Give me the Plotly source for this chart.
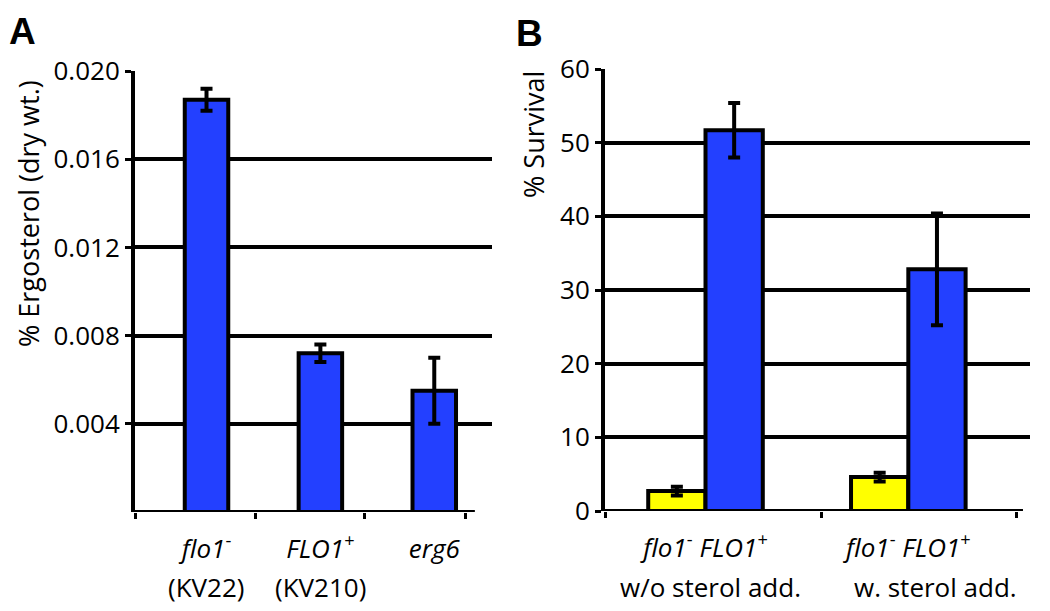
import plotly.graph_objects as go

# ---------------- Panel A data ----------------
a_categories = ["flo1-", "FLO1+", "erg6"]
a_labels_line1 = ["<i>flo1</i><sup>-</sup>", "<i>FLO1</i><sup>+</sup>", "<i>erg6</i>"]
a_labels_line2 = ["(KV22)", "(KV210)", ""]
a_values = [0.0187, 0.0072, 0.0055]
a_errors = [0.0005, 0.0004, 0.0015]
a_yticks = [0.004, 0.008, 0.012, 0.016, 0.020]
a_yticklabels = ["0.004", "0.008", "0.012", "0.016", "0.020"]

# ---------------- Panel B data ----------------
b_groups = ["w/o sterol add.", "w. sterol add."]
b_labels_line1 = ["<i>flo1</i><sup>-</sup> <i>FLO1</i><sup>+</sup>",
                  "<i>flo1</i><sup>-</sup> <i>FLO1</i><sup>+</sup>"]
b_flo1_minus = [2.7, 4.6]
b_flo1_minus_err = [0.6, 0.6]
b_FLO1_plus = [51.7, 32.8]
b_FLO1_plus_err = [3.7, 7.6]
b_yticks = [0, 10, 20, 30, 40, 50, 60]
b_yticklabels = ["0", "10", "20", "30", "40", "50", "60"]

BLUE = "#2340FF"
YELLOW = "#FFFF00"
FONT = "Open Sans"
FS = 26

# page body has an 8px margin: lay the figure out in page pixels
OFF = 8
W, H = 1050 - OFF, 611 - OFF


def fx(px):
    return (px - OFF) / W


def fy(py):
    return 1 - (py - OFF) / H


a_x = list(range(len(a_categories)))
b_x = list(range(len(b_groups)))

fig = go.Figure()

fig.add_trace(go.Bar(
    x=a_x, y=a_values, width=0.382,
    marker=dict(color=BLUE, line=dict(color="black", width=4)),
    error_y=dict(type="data", array=a_errors, color="black", thickness=4, width=6),
    xaxis="x", yaxis="y", showlegend=False,
))
fig.add_trace(go.Bar(
    x=b_x, y=b_flo1_minus,
    marker=dict(color=YELLOW, line=dict(color="black", width=4)),
    error_y=dict(type="data", array=b_flo1_minus_err, color="black", thickness=4, width=6),
    xaxis="x2", yaxis="y2", showlegend=False,
))
fig.add_trace(go.Bar(
    x=b_x, y=b_FLO1_plus,
    marker=dict(color=BLUE, line=dict(color="black", width=4)),
    error_y=dict(type="data", array=b_FLO1_plus_err, color="black", thickness=4, width=6),
    xaxis="x2", yaxis="y2", showlegend=False,
))

axis_common = dict(color="black", automargin=False,
                   tickfont=dict(family=FONT, size=FS, color="black"))

fig.update_layout(
    template="none",
    width=W, height=H,
    margin=dict(l=0, r=0, t=0, b=0, pad=0),
    paper_bgcolor="white", plot_bgcolor="white",
    barmode="group", bargap=0.435, bargroupgap=0,
    font=dict(family=FONT, size=FS, color="black"),
    xaxis=dict(
        domain=[fx(135), fx(492)], range=[-0.628, 2.507],
        tickmode="array", tickvals=a_x, ticktext=a_labels_line1,
        ticks="", showgrid=False, zeroline=False, showline=False,
        ticklabelstandoff=19,
        minor=dict(tickmode="array", tickvals=[-0.628, 0.426, 1.383, 2.270],
                   ticks="outside", ticklen=6, tickwidth=3, tickcolor="black", showgrid=False),
        anchor="y", **axis_common,
    ),
    yaxis=dict(
        domain=[fy(512), fy(71)], range=[0, 0.020],
        tickmode="array", tickvals=a_yticks, ticktext=a_yticklabels,
        ticks="outside", ticklen=6, tickwidth=3, tickcolor="black",
        showgrid=True, gridcolor="black", gridwidth=3.5,
        showline=True, linecolor="black", linewidth=4, zeroline=False,
        anchor="x", **axis_common,
    ),
    xaxis2=dict(
        domain=[fx(605), fx(1030)], range=[-0.4956, 1.600],
        tickmode="array", tickvals=b_x, ticktext=b_labels_line1,
        ticks="", showgrid=False, zeroline=False, showline=False,
        ticklabelstandoff=19,
        minor=dict(tickmode="array", tickvals=[-0.4956, 0.574, 1.531],
                   ticks="outside", ticklen=6, tickwidth=3, tickcolor="black", showgrid=False),
        anchor="y2", **axis_common,
    ),
    yaxis2=dict(
        domain=[fy(511), fy(69)], range=[0, 60],
        tickmode="array", tickvals=b_yticks, ticktext=b_yticklabels,
        ticks="outside", ticklen=6, tickwidth=3, tickcolor="black",
        showgrid=True, gridcolor="black", gridwidth=3.5,
        showline=True, linecolor="black", linewidth=4, zeroline=False,
        anchor="x2", **axis_common,
    ),
)

# x-axis baselines (shorter than gridlines, as in the original)
fig.add_shape(type="line", xref="x domain", yref="y", x0=-0.008, x1=0.952, y0=0, y1=0,
              line=dict(color="black", width=4))
fig.add_shape(type="line", xref="x2 domain", yref="y2", x0=-0.005, x1=0.9835, y0=0, y1=0,
              line=dict(color="black", width=4))

annotations = []
# second line of category labels
for xi, t in zip(a_x, a_labels_line2):
    if t:
        annotations.append(dict(x=xi, y=fy(587), xref="x", yref="paper", text=t,
                                showarrow=False, xanchor="center", yanchor="middle",
                                font=dict(family=FONT, size=FS, color="black")))
for xi, t, sh in zip(b_x, b_groups, [5, 27]):
    annotations.append(dict(x=xi, y=fy(587), xref="x2", yref="paper", text=t,
                            showarrow=False, xanchor="center", yanchor="middle", xshift=sh,
                            font=dict(family=FONT, size=FS, color="black")))
# axis titles
annotations.append(dict(x=fx(28), y=fy(214), xref="paper", yref="paper",
                        text="% Ergosterol (dry wt.)", textangle=-90, showarrow=False,
                        xanchor="center", yanchor="middle",
                        font=dict(family=FONT, size=27, color="black")))
annotations.append(dict(x=fx(533), y=fy(135), xref="paper", yref="paper",
                        text="% Survival", textangle=-90, showarrow=False,
                        xanchor="center", yanchor="middle",
                        font=dict(family=FONT, size=27, color="black")))
# panel letters
annotations.append(dict(x=fx(22), y=fy(31), xref="paper", yref="paper", text="<b>A</b>",
                        showarrow=False, xanchor="center", yanchor="middle",
                        font=dict(family="Liberation Sans", size=37, color="black")))
annotations.append(dict(x=fx(529), y=fy(33), xref="paper", yref="paper", text="<b>B</b>",
                        showarrow=False, xanchor="center", yanchor="middle",
                        font=dict(family="Liberation Sans", size=37, color="black")))
fig.update_layout(annotations=annotations)

fig.write_html("out.html")
